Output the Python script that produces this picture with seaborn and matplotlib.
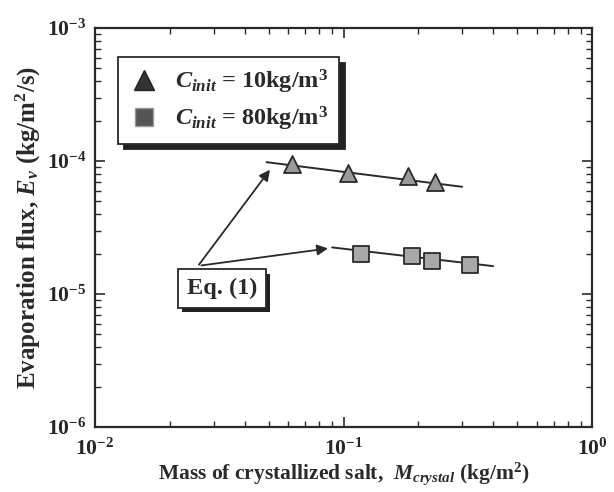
import matplotlib
matplotlib.use("Agg")
import matplotlib.pyplot as plt
import matplotlib.patheffects as pe
from matplotlib.lines import Line2D
import seaborn as sns
import pandas as pd

# Data
tri_x = [0.062, 0.104, 0.181, 0.234]
tri_y = [9.5e-5, 8.1e-5, 7.7e-5, 6.9e-5]
sq_x = [0.118, 0.189, 0.228, 0.324]
sq_y = [1.99e-5, 1.92e-5, 1.76e-5, 1.65e-5]
# Eq. (1) fit line endpoints
fit10_x = [0.049, 0.30]
fit10_y = [9.8e-5, 6.4e-5]
fit80_x = [0.090, 0.40]
fit80_y = [2.24e-5, 1.62e-5]
labels = [r"$C_{init}$ = 10kg/m$^3$", r"$C_{init}$ = 80kg/m$^3$"]

sns.set_style("ticks")
plt.rcParams["font.family"] = ["Liberation Serif", "DejaVu Serif"]
plt.rcParams["font.weight"] = "bold"
plt.rcParams["mathtext.fontset"] = "custom"
plt.rcParams["mathtext.rm"] = "Liberation Serif:bold"
plt.rcParams["mathtext.bf"] = "Liberation Serif:bold"
plt.rcParams["mathtext.it"] = "Liberation Serif:italic:bold"

fig = plt.figure(figsize=(6.14, 4.92), dpi=100)
ax = fig.add_axes([95 / 614, 1 - 427 / 492, 497 / 614, 399 / 492])

ink = "#2a2a2a"
df10 = pd.DataFrame({"x": tri_x, "y": tri_y})
df80 = pd.DataFrame({"x": sq_x, "y": sq_y})
f10 = pd.DataFrame({"x": fit10_x, "y": fit10_y})
f80 = pd.DataFrame({"x": fit80_x, "y": fit80_y})

sns.lineplot(data=f10, x="x", y="y", ax=ax, color=ink, lw=1.4, zorder=2)
sns.lineplot(data=f80, x="x", y="y", ax=ax, color=ink, lw=1.4, zorder=2)
sns.scatterplot(data=df10, x="x", y="y", ax=ax, marker="^", s=150,
                color="#9a9a9a", edgecolor=ink, linewidth=1.3, zorder=3)
sns.scatterplot(data=df80, x="x", y="y", ax=ax, marker="s", s=130,
                color="#a8a8a8", edgecolor=ink, linewidth=1.3, zorder=3)

ax.set_xscale("log")
ax.set_yscale("log")
ax.set_xlim(1e-2, 1e0)
ax.set_ylim(1e-6, 1e-3)

for s in ax.spines.values():
    s.set_linewidth(1.6)
    s.set_color(ink)
ax.tick_params(which="both", direction="in", top=True, right=True, color=ink)
ax.tick_params(which="major", length=7, width=1.2, labelsize=15.5)
ax.tick_params(axis="x", which="major", pad=8)
ax.tick_params(axis="y", which="major", pad=6)
ax.tick_params(which="minor", length=4, width=1.0)
for lab in ax.get_xticklabels() + ax.get_yticklabels():
    lab.set_fontweight("bold")

ax.set_xlabel(r"Mass of crystallized salt,  $M_{crystal}$ (kg/m$^2$)",
              fontsize=15.5, fontweight="bold", color=ink, labelpad=0.5)
ax.set_ylabel(r"Evaporation flux, $E_v$ (kg/m$^2$/s)",
              fontsize=18, fontweight="bold", color=ink, labelpad=3)

handles = [
    Line2D([], [], marker="^", ls="none", markersize=14, color="#333333",
           markeredgecolor="#222222"),
    Line2D([], [], marker="s", ls="none", markersize=13, color="#555555",
           markeredgecolor="#999999"),
]
leg = ax.legend(handles, labels, loc="upper left",
                bbox_to_anchor=(118 / 614, 1 - 57 / 492),
                bbox_transform=fig.transFigure, fancybox=False,
                borderaxespad=0,
                shadow={"ox": 4, "oy": -4, "color": "#222222", "alpha": 1},
                frameon=True, fontsize=17.5, handletextpad=0.7,
                borderpad=0.45, labelspacing=0.35, handlelength=1.2)
leg.get_frame().set_edgecolor(ink)
leg.get_frame().set_linewidth(1.3)
leg.get_frame().set_alpha(1)
for t in leg.get_texts():
    t.set_color(ink)

# Eq. (1) annotation box with two arrows
txt = ax.text(0.0324, 1.1e-5, "Eq. (1)", ha="center", va="center",
              fontsize=17.5, fontweight="bold", color=ink, zorder=5,
              bbox=dict(boxstyle="square,pad=0.35", fc="white", ec=ink, lw=1.3))
txt.get_bbox_patch().set_path_effects(
    [pe.SimplePatchShadow(offset=(3, -3), shadow_rgbFace="#222222", alpha=1),
     pe.Normal()])
ax.annotate("", xy=(0.0506, 8.6e-5), xytext=(0.0262, 1.66e-5),
            arrowprops=dict(arrowstyle="-|>", color=ink, lw=1.3,
                            mutation_scale=16, shrinkA=0, shrinkB=0), zorder=4)
ax.annotate("", xy=(0.0866, 2.2e-5), xytext=(0.0268, 1.64e-5),
            arrowprops=dict(arrowstyle="-|>", color=ink, lw=1.3,
                            mutation_scale=16, shrinkA=0, shrinkB=0), zorder=4)

fig.savefig("out.png", dpi=100)
